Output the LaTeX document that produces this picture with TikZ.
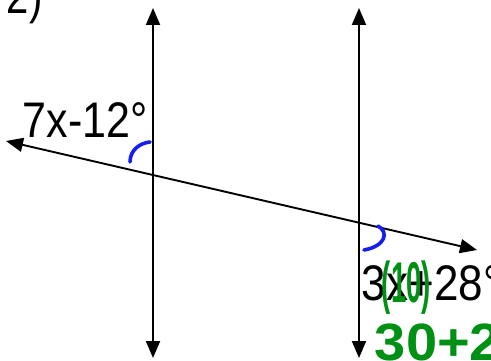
\documentclass[tikz,border=0pt]{standalone}
\usepackage{fontspec}
\setmainfont{Liberation Sans}
\usepackage{graphicx}
\usetikzlibrary{arrows.meta}
\definecolor{marker}{RGB}{0,145,20}
\definecolor{pen}{RGB}{20,30,240}
\begin{document}
\begin{tikzpicture}[x=1pt,y=-1pt,line width=1.9pt,
	both/.style={{Triangle[width=14pt,length=17pt]}-{Triangle[width=14pt,length=17pt]}},
	big/.style={inner sep=0pt,anchor=base west,font=\fontsize{50}{50}\selectfont},
	hand/.style={big,text=marker,font=\fontsize{50}{50}\selectfont\bfseries},
	anglearc/.style={pen,line width=3.6pt,line cap=round}]
	\useasboundingbox(0,0)rectangle(491,361);
	\coordinate(a1)at(153,8);\coordinate(a2)at(153,358);
	\coordinate(b1)at(359,8);\coordinate(b2)at(359,358);
	\coordinate(t1)at(6,141);\coordinate(t2)at(477,250);
	\draw[both](a2)--(a1);
	\draw[both](b2)--(b1);
	\draw[both](t1)--(t2);
	\node[big](num)at(6,14){\scalebox{.8}[1]{2)}};
	\node[big](left)at(22,138){\scalebox{.86}[1]{7x-12°}};
	\node[big](right)at(361,300){\scalebox{.88}[1]{3x+28°}};
	\draw[anglearc](130,162)..controls(130,150)and(140,143)..(150,142);
	\draw[anglearc](378,226)..controls(389,232)and(386,246)..(364,250);
	\node[hand](ten)at(381,302){\scalebox{.55}[1.15]{(10)}};
	\node[hand](sum)at(374,360){\scalebox{1.12}[1.05]{30+2}};
\end{tikzpicture}
\end{document}
